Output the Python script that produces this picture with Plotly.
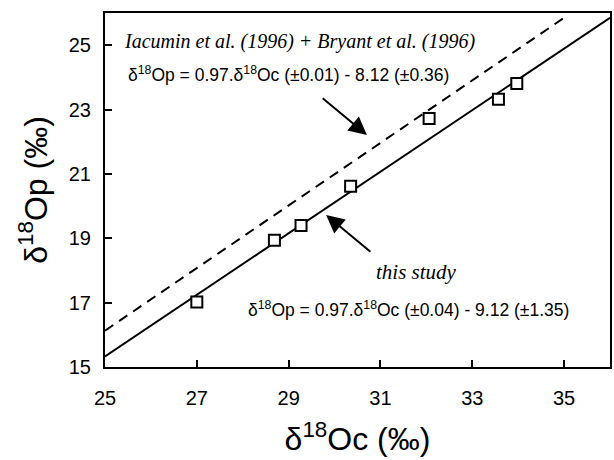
import plotly.graph_objects as go

# measured samples (δ18Oc, δ18Op)
oc_vals = [27.0, 28.69, 29.27, 30.35, 32.06, 33.57, 33.97]
op_vals = [17.02, 18.94, 19.40, 20.62, 22.72, 23.32, 23.81]

# regression line of this study (end points)
study_x = [25.0, 36.0]
study_y = [15.33, 25.85]

# Iacumin et al. + Bryant et al. line (end points)
lit_x = [25.0, 35.05]
lit_y = [16.13, 25.9]

x_ticks = [25, 27, 29, 31, 33, 35]
y_ticks = [15, 17, 19, 21, 23, 25]

fig = go.Figure()
fig.add_trace(go.Scatter(x=lit_x, y=lit_y, mode="lines",
                         line=dict(color="black", width=2, dash="10px,7px"),
                         showlegend=False, hoverinfo="skip"))
fig.add_trace(go.Scatter(x=study_x, y=study_y, mode="lines",
                         line=dict(color="black", width=2),
                         showlegend=False, hoverinfo="skip"))
fig.add_trace(go.Scatter(x=oc_vals, y=op_vals, mode="markers",
                         marker=dict(symbol="square", size=11, color="white",
                                     line=dict(color="black", width=2)),
                         showlegend=False))

sans = "Liberation Sans, Arial, sans-serif"
serif = "Liberation Serif, Times New Roman, serif"

fig.update_layout(
    width=614, height=460,
    margin=dict(l=105, r=2, t=13, b=93),
    plot_bgcolor="white", paper_bgcolor="white",
    font=dict(family=sans, color="black"),
    xaxis=dict(range=[25, 36], tickvals=x_ticks, ticks="inside", ticklen=7,
               tickwidth=2, tickcolor="black", showline=True, linewidth=2,
               linecolor="black", mirror=True, showgrid=False, zeroline=False,
               tickfont=dict(size=20, family=sans), ticklabelstandoff=12,
               title=dict(text="δ<sup>18</sup>Oc (‰)", font=dict(size=32, family=sans),
                          standoff=20)),
    yaxis=dict(range=[15, 26], tickvals=y_ticks, ticks="inside", ticklen=7,
               tickwidth=2, tickcolor="black", showline=True, linewidth=2,
               linecolor="black", mirror=True, showgrid=False, zeroline=False,
               tickfont=dict(size=20, family=sans), ticklabelstandoff=8,
               title=dict(text="δ<sup>18</sup>Op (‰)", font=dict(size=32, family=sans),
                          standoff=12)),
)

W = 614 - 105 - 2
H = 460 - 13 - 93
def px(x):
    return (x - 105) / W
def py(y):
    return (367 - y) / H

def txt(x, y, s, font, size, anchor="left"):
    fig.add_annotation(x=px(x), y=py(y), xref="x domain", yref="y domain", text=s,
                       showarrow=False, xanchor=anchor, yanchor="middle",
                       font=dict(family=font, size=size, color="black"))

txt(122, 42, "<i>Iacumin et al. (1996) + Bryant et al. (1996)</i>", serif, 20)
txt(126, 74, "δ<sup>18</sup>Op = 0.97.δ<sup>18</sup>Oc (±0.01) - 8.12 (±0.36)", sans, 17.5)
txt(375, 272, "<i>this study</i>", serif, 21)
txt(247, 309, "δ<sup>18</sup>Op = 0.97.δ<sup>18</sup>Oc (±0.04) - 9.12 (±1.35)", sans, 17.5)

def arrow(x0, y0, x1, y1):
    fig.add_annotation(x=px(x1), y=py(y1), ax=px(x0), ay=py(y0),
                       xref="x domain", yref="y domain", axref="x domain", ayref="y domain",
                       text="", showarrow=True, arrowhead=2, arrowsize=1.8,
                       arrowwidth=2, arrowcolor="black")

arrow(322, 97, 368, 135)
arrow(373, 253, 327, 215)

fig.write_html("out.html")
